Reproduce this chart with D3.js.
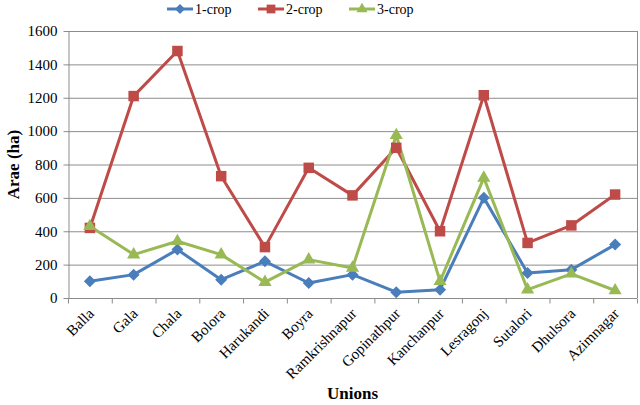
<!DOCTYPE html>
<html><head>
<meta charset="UTF-8">
<title>Crop area by union</title>
<script src="https://d3js.org/d3.v7.min.js"></script>
<style>
  body { margin: 0; background: #fff; }
  text { font-family: "Liberation Serif", "Times New Roman", serif; fill: #000; }
  .grid line { stroke: #8c8c8c; stroke-width: 1px; }
  .axis path, .axis line { stroke: #8c8c8c; }
  .line { fill: none; stroke-width: 3px; stroke-linejoin: round; }
</style>
</head>
<body>
<script>

// data
var unions = ["Balla", "Gala", "Chala", "Bolora", "Harukandi", "Boyra", "Ramkrishnapur",
              "Gopinathpur", "Kanchanpur", "Lesragonj", "Sutalori", "Dhulsora", "Azimnagar"];
var crop1 = [100, 140, 290, 110, 220, 90, 140, 35, 50, 600, 150, 170, 320];
var crop2 = [420, 1210, 1480, 730, 305, 780, 615, 900, 400, 1215, 330, 435, 620];
var crop3 = [430, 260, 340, 260, 95, 230, 180, 975, 100, 720, 50, 145, 45];
var yTicks = [0, 200, 400, 600, 800, 1000, 1200, 1400, 1600];

var series = [
  {name: "1-crop", values: crop1, color: "#4a7ebb", symbol: d3.symbolSquare, size: 72, rot: 45},
  {name: "2-crop", values: crop2, color: "#be4b48", symbol: d3.symbolSquare, size: 110, rot: 0},
  {name: "3-crop", values: crop3, color: "#98b954", symbol: d3.symbolTriangle, size: 75, rot: 0}
];

var W = 640, H = 405;
var margin = {top: 31, right: 3, bottom: 107, left: 68};
var width = W - margin.left - margin.right,
    height = H - margin.top - margin.bottom;

var svg = d3.select("body").append("svg")
    .attr("width", W)
    .attr("height", H);

var g = svg.append("g")
    .attr("transform", "translate(" + margin.left + "," + margin.top + ")");

var x = d3.scaleBand().domain(unions).range([0, width]);
var y = d3.scaleLinear().domain([0, 1600]).range([height, 0]);

// horizontal grid
g.append("g").attr("class", "grid")
  .selectAll("line").data(yTicks.slice(1)).enter()
  .append("line")
  .attr("x1", 0).attr("x2", width)
  .attr("y1", function(d){ return y(d) + 0.5; })
  .attr("y2", function(d){ return y(d) + 0.5; });

// right border of plot
g.append("line")
  .attr("x1", width + 0.5).attr("x2", width + 0.5)
  .attr("y1", 0).attr("y2", height)
  .attr("stroke", "#8c8c8c");

// y axis
var yAxis = g.append("g").attr("class", "axis")
  .attr("transform", "translate(0.5,0)")
  .call(d3.axisLeft(y).tickValues(yTicks).tickFormat(d3.format("d")).tickSize(5).tickSizeOuter(0));
yAxis.selectAll("text").style("font-size", "15px").attr("dx", "-3px");

// x axis: ticks at category boundaries
var xAxis = g.append("g").attr("class", "axis")
  .attr("transform", "translate(0," + (height + 0.5) + ")");
xAxis.append("line").attr("x1", 0).attr("x2", width);
xAxis.selectAll(".tk").data(d3.range(unions.length + 1)).enter()
  .append("line").attr("class", "tk")
  .attr("x1", function(i){ return i * x.bandwidth() + 0.5; })
  .attr("x2", function(i){ return i * x.bandwidth() + 0.5; })
  .attr("y1", 0).attr("y2", 5);
xAxis.selectAll(".lbl").data(unions).enter()
  .append("text").attr("class", "lbl")
  .attr("text-anchor", "end")
  .style("font-size", "15px")
  .attr("transform", function(d){
    return "translate(" + (x(d) + x.bandwidth()/2 + 5) + ",16) rotate(-45)";
  })
  .text(function(d){ return d; });

// lines and markers
var line = d3.line()
  .x(function(d, i){ return x(unions[i]) + x.bandwidth()/2; })
  .y(function(d){ return y(d); });

series.forEach(function(s){
  g.append("path")
    .datum(s.values)
    .attr("class", "line")
    .attr("stroke", s.color)
    .attr("d", line);
});

series.forEach(function(s){
  g.selectAll(null).data(s.values).enter()
    .append("path")
    .attr("d", d3.symbol().type(s.symbol).size(s.size))
    .attr("fill", s.color)
    .attr("transform", function(d, i){
      return "translate(" + (x(unions[i]) + x.bandwidth()/2) + "," + y(d) + ") rotate(" + s.rot + ")";
    });
});

// axis titles
svg.append("text")
  .attr("transform", "translate(19," + (margin.top + height/2) + ") rotate(-90)")
  .attr("text-anchor", "middle")
  .style("font-size", "17px").style("font-weight", "bold")
  .text("Arae (ha)");

svg.append("text")
  .attr("x", margin.left + width/2)
  .attr("y", 399)
  .attr("text-anchor", "middle")
  .style("font-size", "17px").style("font-weight", "bold")
  .text("Unions");

// legend
var legendX = [167, 258, 349];
var legend = svg.selectAll(".legend").data(series).enter()
  .append("g").attr("class", "legend")
  .attr("transform", function(d, i){ return "translate(" + legendX[i] + ",9)"; });
legend.append("line")
  .attr("x1", 0).attr("x2", 26)
  .attr("stroke", function(d){ return d.color; })
  .attr("stroke-width", 3);
legend.append("path")
  .attr("d", function(d){ return d3.symbol().type(d.symbol).size(d.size * 0.7)(); })
  .attr("fill", function(d){ return d.color; })
  .attr("transform", function(d){ return "translate(13,0) rotate(" + d.rot + ")"; });
legend.append("text")
  .attr("x", 28).attr("y", 5)
  .style("font-size", "14px")
  .text(function(d){ return d.name; });

</script>
</body>
</html>
